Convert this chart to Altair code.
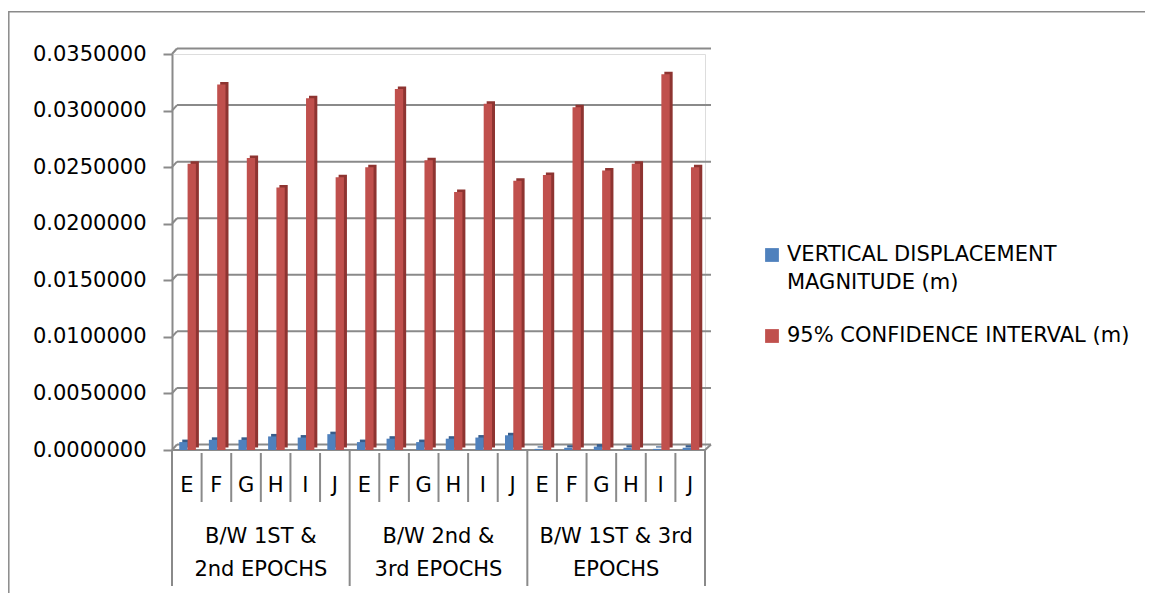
import altair as alt
import pandas as pd

# ---------------- data ----------------
groups = ["B/W 1ST & 2nd EPOCHS", "B/W 2nd & 3rd EPOCHS", "B/W 1ST & 3rd EPOCHS"]
group_line1 = ["B/W 1ST &", "B/W 2nd &", "B/W 1ST & 3rd"]
group_line2 = ["2nd EPOCHS", "3rd EPOCHS", "EPOCHS"]
points = ["E", "F", "G", "H", "I", "J"]
series = ["VERTICAL DISPLACEMENT MAGNITUDE (m)", "95% CONFIDENCE INTERVAL (m)"]
legend_lines = [["VERTICAL DISPLACEMENT", "MAGNITUDE (m)"], ["95% CONFIDENCE INTERVAL (m)"]]

vertical_disp = [0.0007, 0.0009, 0.0009, 0.0012, 0.0011, 0.0014,
                 0.0007, 0.0010, 0.0007, 0.0010, 0.0011, 0.0013,
                 0.0001, 0.0002, 0.0003, 0.0002, 0.0001, 0.0002]
conf_int = [0.0253, 0.0323, 0.0258, 0.0232, 0.0311, 0.0241,
            0.0250, 0.0319, 0.0256, 0.0228, 0.0306, 0.0238,
            0.0243, 0.0303, 0.0247, 0.0253, 0.0332, 0.0250]
y_ticks = [0.0, 0.005, 0.010, 0.015, 0.020, 0.025, 0.030, 0.035]

front_colors = ["#4F81BD", "#C0504D"]
side_colors = ["#385D8A", "#8E3431"]
GRID = "#8A8A8A"
FONT = "DejaVu Sans"

W, H = 533, 396

rows = []
for gi, g in enumerate(groups):
    for pi, p in enumerate(points):
        k = gi * 6 + pi
        key = f"{gi}{p}"
        for si, vals in enumerate([vertical_disp, conf_int]):
            rows.append(dict(key=key, point=p, group=g, series=series[si],
                             value=vals[k], front=front_colors[si], side=side_colors[si]))
df = pd.DataFrame(rows)
keys = [f"{gi}{p}" for gi in range(len(groups)) for p in points]

cats = pd.DataFrame({"key": keys, "point": [k[1:] for k in keys]})
grp = pd.DataFrame({"key": [f"{gi}G" for gi in range(len(groups))],
                    "l1": group_line1, "l2": group_line2})
gridf = pd.DataFrame({"v": y_ticks})
one = pd.DataFrame({"a": [0]})

xscale = alt.Scale(domain=keys, paddingInner=0, paddingOuter=0)
yscale = alt.Scale(domain=[0, 0.035], nice=False, zero=True)
y_axis = alt.Axis(format=".7f", values=y_ticks, grid=False, title=None,
                  domainColor=GRID, domainWidth=2, tickColor=GRID, tickWidth=2,
                  tickSize=9, labelPadding=17, labelFont=FONT, labelFontSize=21,
                  labelColor="black")

# ---------------- layers ----------------
border = alt.Chart(one).mark_rect(fill="transparent", stroke=GRID, strokeWidth=1.5).encode(
    x=alt.value(-163.2), x2=alt.value(1300), y=alt.value(-42.3), y2=alt.value(900))

grid = alt.Chart(gridf).mark_rule(yOffset=-5.5, color=GRID, strokeWidth=2).encode(
    y=alt.Y("v:Q", scale=yscale, axis=y_axis), x=alt.value(5), x2=alt.value(W + 6))
diag = alt.Chart(gridf).mark_rule(y2Offset=-5.5, color=GRID, strokeWidth=2).encode(
    y=alt.Y("v:Q", scale=yscale, axis=y_axis), y2="v:Q", x=alt.value(0), x2=alt.value(5))
floor = alt.Chart(one).mark_rule(color=GRID, strokeWidth=2).encode(
    x=alt.value(0), x2=alt.value(W), y=alt.value(H))
floor_r = alt.Chart(one).mark_rule(color=GRID, strokeWidth=2).encode(
    x=alt.value(W), x2=alt.value(W + 6), y=alt.value(H), y2=alt.value(H - 5.5))

side = alt.Chart(df).mark_bar(yOffset=-2.5).encode(
    x=alt.X("key:N", scale=xscale, axis=None, sort=keys),
    xOffset=alt.XOffset("series:N", sort=series,
                        scale=alt.Scale(domain=series, paddingInner=0, paddingOuter=0.78, align=0.79)),
    y=alt.Y("value:Q", scale=yscale, axis=y_axis),
    color=alt.Color("side:N", scale=None),
)
front = alt.Chart(df).mark_bar().encode(
    x=alt.X("key:N", scale=xscale, axis=None, sort=keys),
    xOffset=alt.XOffset("series:N", sort=series,
                        scale=alt.Scale(domain=series, paddingInner=0, paddingOuter=0.78, align=0.56)),
    y=alt.Y("value:Q", scale=yscale, axis=y_axis),
    color=alt.Color("front:N", scale=None),
)

sep_small = alt.Chart(cats[cats["point"] != "E"]).mark_rule(color=GRID, strokeWidth=2).encode(
    x=alt.X("key:N", scale=xscale, axis=None, bandPosition=0),
    y=alt.value(H + 3), y2=alt.value(H + 52))
sep_big = alt.Chart(cats[cats["point"] == "E"]).mark_rule(color=GRID, strokeWidth=2).encode(
    x=alt.X("key:N", scale=xscale, axis=None, bandPosition=0),
    y=alt.value(H), y2=alt.value(H + 136))
sep_last = alt.Chart(cats.tail(1)).mark_rule(color=GRID, strokeWidth=2).encode(
    x=alt.X("key:N", scale=xscale, axis=None, bandPosition=1),
    y=alt.value(H), y2=alt.value(H + 136))

letters = alt.Chart(cats).mark_text(font=FONT, fontSize=21, color="black", baseline="middle").encode(
    x=alt.X("key:N", scale=xscale, axis=None, bandPosition=0.5),
    y=alt.value(H + 36), text="point:N")
g1 = alt.Chart(grp).mark_text(font=FONT, fontSize=21, color="black", baseline="middle").encode(
    x=alt.X("key:N", scale=xscale, axis=None, bandPosition=1),
    y=alt.value(H + 87), text="l1:N")
g2 = alt.Chart(grp).mark_text(font=FONT, fontSize=21, color="black", baseline="middle").encode(
    x=alt.X("key:N", scale=xscale, axis=None, bandPosition=1),
    y=alt.value(H + 120), text="l2:N")

# legend (drawn by hand to mimic wrapped entries)
LX = 600
leg = []
leg_y = [(201, [201, 229]), (282, [282])]
for si in range(2):
    sq_y, text_ys = leg_y[si]
    leg.append(alt.Chart(one).mark_square(size=190, color=front_colors[si], opacity=1).encode(
        x=alt.value(LX), y=alt.value(sq_y)))
    for ln, ty in zip(legend_lines[si], text_ys):
        leg.append(alt.Chart(one).mark_text(font=FONT, fontSize=21, color="black",
                                            align="left", baseline="middle").encode(
            x=alt.value(LX + 15), y=alt.value(ty), text=alt.value(ln)))

chart = alt.layer(border, grid, diag, floor, floor_r, side, front,
                  sep_small, sep_big, sep_last, letters, g1, g2, *leg).resolve_scale(
    xOffset="independent"
).properties(
    width=W, height=H,
    autosize=alt.AutoSizeParams(type="none"),
    padding={"left": 164, "top": 46, "right": 440, "bottom": 143},
).configure_view(stroke=None).configure(background="white")

chart.save("out.html", embed_options={"renderer": "svg", "actions": False})
